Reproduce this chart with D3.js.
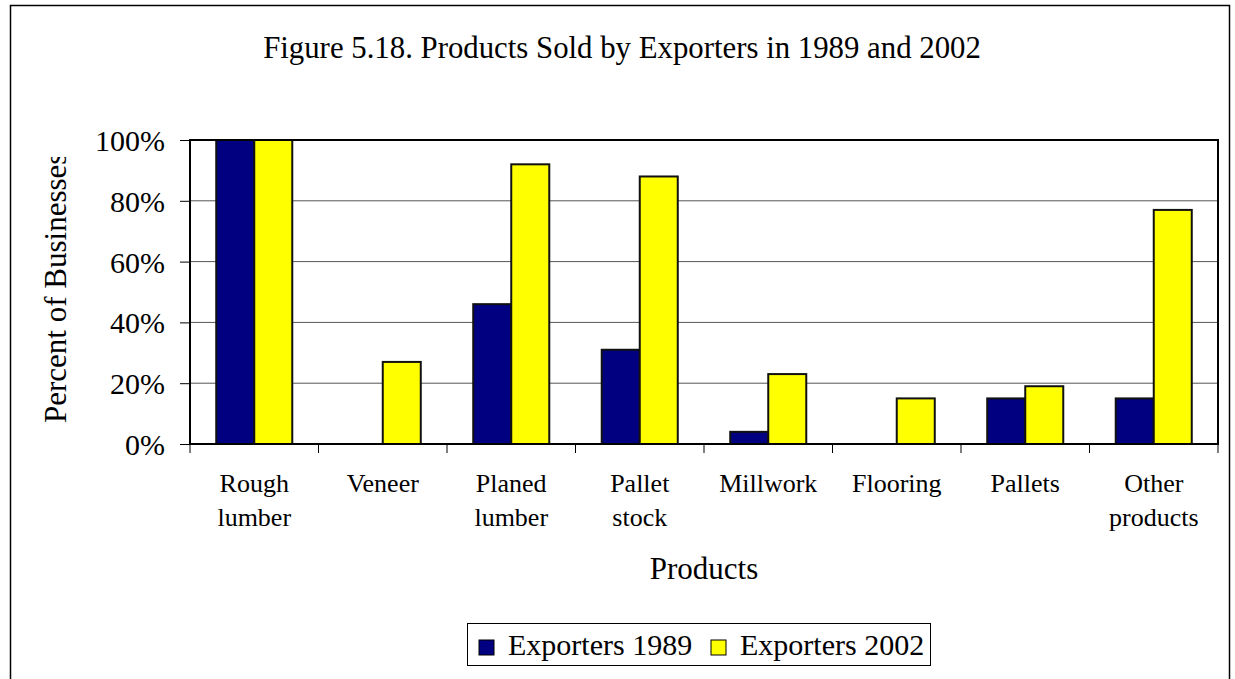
<!DOCTYPE html>
<html>
<head>
<meta charset="utf-8">
<script src="https://cdn.jsdelivr.net/npm/d3@7"></script>
<style>
  html, body { margin: 0; padding: 0; background: #fff; }
  svg text { font-family: "Liberation Serif", "Times New Roman", serif; }
</style>
</head>
<body>
<svg id="chart" width="1235" height="679"></svg>
<script>
// Product categories (label lines) and share of exporting businesses selling each
const categories = [
  ["Rough", "lumber"], ["Veneer"], ["Planed", "lumber"], ["Pallet", "stock"],
  ["Millwork"], ["Flooring"], ["Pallets"], ["Other", "products"]
];
const exporters1989 = [100, 0, 46, 31, 4, 0, 15, 15];
const exporters2002 = [100, 27, 92, 88, 23, 15, 19, 77];
const seriesNames = ["Exporters 1989", "Exporters 2002"];
const seriesColors = ["#000080", "#ffff00"];
const yTicks = [0, 20, 40, 60, 80, 100];

const FONT = "Liberation Serif, Times New Roman, serif";
const svg = d3.select("#chart").attr("font-family", FONT);

// Outer frame
svg.append("rect")
  .attr("x", 10.5).attr("y", 5.5).attr("width", 1219).attr("height", 720)
  .attr("fill", "none").attr("stroke", "#000").attr("stroke-width", 1.5);

// Title
svg.append("text")
  .attr("x", 622).attr("y", 58)
  .attr("text-anchor", "middle")
  .attr("font-size", 30.8)
  .text("Figure 5.18. Products Sold by Exporters in 1989 and 2002");

const plot = { left: 190, right: 1218, top: 140, bottom: 444 };

const x = d3.scaleBand()
  .domain(d3.range(categories.length))
  .range([plot.left, plot.right])
  .paddingInner(0).paddingOuter(0);

const x1 = d3.scaleBand()
  .domain([0, 1])
  .range([0, x.bandwidth()])
  .paddingOuter(0.69).paddingInner(0);

const y = d3.scaleLinear().domain([0, 100]).range([plot.bottom, plot.top]);

// Gridlines
svg.append("g")
  .selectAll("line")
  .data(yTicks.filter(d => d > 0 && d < 100))
  .join("line")
  .attr("x1", plot.left).attr("x2", plot.right)
  .attr("y1", d => y(d)).attr("y2", d => y(d))
  .attr("stroke", "#555").attr("stroke-width", 1);

// Bars
const series = [exporters1989, exporters2002];
const groups = svg.append("g")
  .selectAll("g")
  .data(categories.map((c, i) => i))
  .join("g")
  .attr("transform", i => `translate(${x(i)},0)`);

groups.selectAll("rect")
  .data(i => series.map((s, k) => ({ k, v: s[i] })).filter(d => d.v > 0))
  .join("rect")
  .attr("x", d => x1(d.k))
  .attr("width", x1.bandwidth())
  .attr("y", d => y(d.v))
  .attr("height", d => y(0) - y(d.v))
  .attr("fill", d => seriesColors[d.k])
  .attr("stroke", "#111").attr("stroke-width", 2);

// Plot frame
svg.append("rect")
  .attr("x", plot.left).attr("y", plot.top)
  .attr("width", plot.right - plot.left).attr("height", plot.bottom - plot.top)
  .attr("fill", "none").attr("stroke", "#000").attr("stroke-width", 2);

// Y axis
const yAxis = svg.append("g")
  .attr("transform", `translate(${plot.left},0)`)
  .call(d3.axisLeft(y).tickValues(yTicks).tickSize(10).tickPadding(15).tickFormat(d => d + "%"));
yAxis.attr("font-family", FONT).attr("font-size", 30);
yAxis.select(".domain").remove();
yAxis.selectAll(".tick line").attr("stroke", "#000").attr("stroke-width", 1);
yAxis.selectAll(".tick text").attr("fill", "#000").attr("dy", "0.35em");

// X axis ticks at category boundaries
svg.append("g")
  .selectAll("line")
  .data(d3.range(categories.length + 1))
  .join("line")
  .attr("x1", i => plot.left + i * x.bandwidth())
  .attr("x2", i => plot.left + i * x.bandwidth())
  .attr("y1", plot.bottom).attr("y2", plot.bottom + 9)
  .attr("stroke", "#000").attr("stroke-width", 1);

// X category labels
const xl = svg.append("g")
  .selectAll("text")
  .data(categories)
  .join("text")
  .attr("x", (c, i) => x(i) + x.bandwidth() / 2)
  .attr("y", 492)
  .attr("text-anchor", "middle")
  .attr("font-size", 26);
xl.selectAll("tspan")
  .data(c => c)
  .join("tspan")
  .attr("x", function() { return d3.select(this.parentNode).attr("x"); })
  .attr("dy", (d, j) => j === 0 ? 0 : 34)
  .text(d => d);

// Axis titles
svg.append("text")
  .attr("x", 704).attr("y", 579)
  .attr("text-anchor", "middle")
  .attr("font-size", 31)
  .text("Products");

svg.append("clipPath").attr("id", "ylabel-clip")
  .append("rect").attr("x", 20).attr("y", 157).attr("width", 60).attr("height", 300);

svg.append("g").attr("clip-path", "url(#ylabel-clip)")
  .append("text")
  .attr("transform", "translate(66,423) rotate(-90)")
  .attr("text-anchor", "start")
  .attr("font-size", 31)
  .text("Percent of Businesses");

// Legend
const legend = svg.append("g");
legend.append("rect")
  .attr("x", 467.5).attr("y", 623.5).attr("width", 463).attr("height", 42)
  .attr("fill", "#fff").attr("stroke", "#000").attr("stroke-width", 1);

const legendX = [479, 711];
const items = legend.selectAll("g.item")
  .data(seriesNames)
  .join("g").attr("class", "item")
  .attr("transform", (d, i) => `translate(${legendX[i]},0)`);
items.append("rect")
  .attr("x", 0).attr("y", 640).attr("width", 15).attr("height", 15)
  .attr("fill", (d, i) => seriesColors[i]).attr("stroke", "#000").attr("stroke-width", 1);
items.append("text")
  .attr("x", 29).attr("y", 655)
  .attr("font-size", 30)
  .text(d => d);
</script>
</body>
</html>
